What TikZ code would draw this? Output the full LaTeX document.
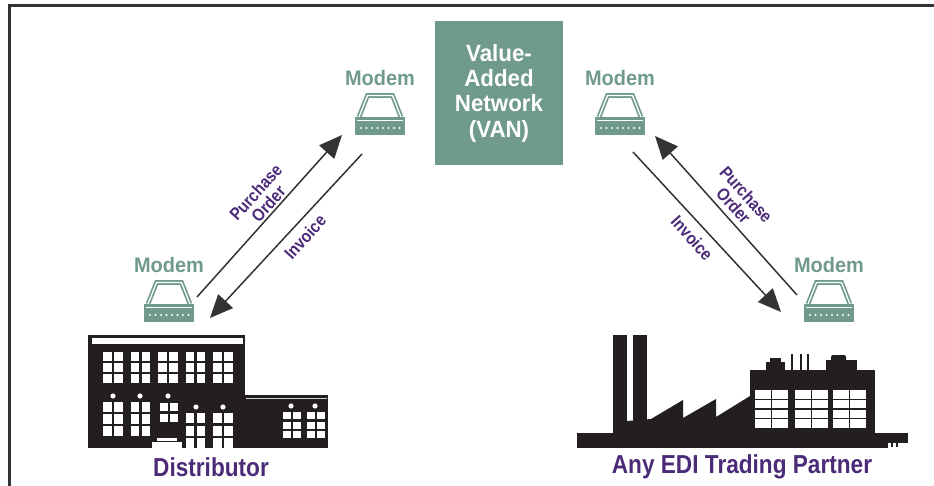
\documentclass[tikz,border=0pt]{standalone}
\usepackage{fontspec}
\setmainfont{Liberation Sans}
\newfontfamily\narrowsans[FakeStretch=0.87]{Liberation Sans}
\newfontfamily\vanfont[FakeStretch=0.95]{Liberation Sans}
\usetikzlibrary{arrows.meta}
\definecolor{vanteal}{HTML}{6F9A8C}
\definecolor{labelpurple}{HTML}{4B2A78}
\definecolor{inkblack}{HTML}{231F20}
\definecolor{wire}{HTML}{333333}

% white window panes: x, y, columns, rows, pane width, pane height, gap
\newcommand\panegrid[7]{%
  \foreach \pc in {1,...,#3}{%
    \foreach \pr in {1,...,#4}{%
      \fill[white] ({#1+(\pc-1)*(#5+#7)},{#2+(\pr-1)*(#6+#7)}) rectangle ++(#5,#6);}}}

\begin{document}
\begin{tikzpicture}[x=1pt,y=-1pt,
  modemlabel/.style={text=vanteal, font=\vanfont\bfseries\fontsize{21}{21}\selectfont, inner sep=0pt},
  flowlabel/.style={text=labelpurple, font=\narrowsans\bfseries\fontsize{17.5}{17}\selectfont, align=center, inner sep=0pt},
  sitelabel/.style={text=labelpurple, font=\narrowsans\bfseries\fontsize{26}{26}\selectfont, inner sep=0pt},
  vanbox/.style={fill=vanteal, text=white, font=\vanfont\bfseries\fontsize{23.5}{25.3}\selectfont,
    align=center, minimum width=128pt, minimum height=144pt, inner sep=0pt},
  flow/.style={draw=wire, line width=1.5pt, -{Triangle[length=23pt,width=20pt]}},
  pics/modem/.style={code={
    \node[modemlabel] (-label) at (0,0) {Modem};
    \fill[vanteal] (-25,39) rectangle (25,57);
    \draw[white, line width=1.3pt] (-23,42.5) -- (23,42.5);
    \foreach \dx in {-19,-13.5,...,19.5} \fill[white] (\dx,50) circle (1.2pt);
    \draw[vanteal, double=white, double distance=1.3pt, line width=1.7pt, line join=miter]
      (-21,39) -- (-12.5,17.5) -- (12.5,17.5) -- (21,39);
  }}
]
\useasboundingbox (0,0) rectangle (934,486);

% frame
\draw[wire, line width=3pt] (9,486) -- (9,5.5) -- (934,5.5);

% network in the middle
\node[vanbox] (van) at (499,93) {Value-\\Added\\Network\\(VAN)};

% modems
\pic (mTL) at (380,78) {modem};
\pic (mTR) at (620,78) {modem};
\pic (mBL) at (169,265) {modem};
\pic (mBR) at (829,265) {modem};

% message flows
\coordinate (poL-start) at (197,297);
\coordinate (poL-end) at (342,135);
\coordinate (invL-start) at (362,154);
\coordinate (invL-end) at (210,318);
\coordinate (poR-start) at (797,295);
\coordinate (poR-end) at (655,136);
\coordinate (invR-start) at (633,152);
\coordinate (invR-end) at (781,312);
\draw[flow] (poL-start) -- (poL-end);
\draw[flow] (invL-start) -- (invL-end);
\draw[flow] (poR-start) -- (poR-end);
\draw[flow] (invR-start) -- (invR-end);

\node[flowlabel, rotate=48] (poL-text) at (262,198) {Purchase\\Order};
\node[flowlabel, rotate=48] (invL-text) at (305,237) {Invoice};
\node[flowlabel, rotate=-48] (poR-text) at (740,200) {Purchase\\Order};
\node[flowlabel, rotate=-48] (invR-text) at (692,238) {Invoice};

% distributor building
\fill[inkblack] (88,335) rectangle (245,448);
\fill[inkblack] (245,395) rectangle (328,448);
\fill[white] (92,338) rectangle (243,344);
\draw[white!65!gray, line width=1pt] (246,398) -- (327,398);
\foreach \wx in {103,130.5,158,185.5,213} \panegrid{\wx}{352}{2}{3}{8.5}{8.7}{2.5};
\panegrid{103}{402}{2}{3}{8.5}{9.5}{2.5}
\panegrid{130.5}{402}{2}{3}{8.5}{9.5}{2.5}
\panegrid{160}{403}{2}{2}{7.5}{8}{2.5}
\panegrid{185.5}{413}{2}{3}{8.5}{10}{2.5}
\panegrid{213}{413}{2}{3}{8.5}{10}{2.5}
\panegrid{283}{412}{2}{3}{7.5}{7}{2.5}
\panegrid{307}{412}{2}{3}{7.5}{7}{2.5}
\foreach \p in {(113,396),(140,396),(168,396),(196,407),(223,407),(291,406),(315,406)}
  \fill[white] \p circle (2.6pt);
\fill[white] (152,442) rectangle (182,447.5);
\fill[white] (157,438) rectangle (177,441.2);

% trading partner factory
\fill[inkblack] (577,433) rectangle (908,442.5);
\fill[inkblack] (577,442) rectangle (888,448);
\fill[inkblack] (891,442) rectangle (893,447);
\fill[inkblack] (896,442) rectangle (898,447);
\fill[inkblack] (613,335) rectangle (627,433);
\fill[inkblack] (633,335) rectangle (647,433);
\fill[inkblack] (627,433) -- (627,421) -- (651,419) -- (683,400) -- (683,418)
  -- (716,399) -- (716,417) -- (750,396) -- (750,433) -- cycle;
\fill[inkblack] (750,370) rectangle (875,433);
\fill[inkblack] (766,362) rectangle (785,371);
\fill[inkblack] (770,358) rectangle (781,363);
\foreach \vx in {792,800.5,808} \fill[inkblack] (\vx-1,354) rectangle (\vx+1,371);
\fill[inkblack] (826,360) rectangle (857,371);
\fill[inkblack, rounded corners=2pt] (831,355) rectangle (846,362);
\foreach \gx in {755,795,833}{
  \fill[white] (\gx,390) rectangle (\gx+33,428);
  \draw[inkblack, line width=1.5pt] (\gx+16.5,390) -- (\gx+16.5,428)
    (\gx,399.5) -- (\gx+33,399.5) (\gx,409) -- (\gx+33,409) (\gx,418.5) -- (\gx+33,418.5);
}

% site names
\node[sitelabel] (distributor) at (211,467) {Distributor};
\node[sitelabel] (partner) at (742,467) {Any EDI Trading Partner};
\end{tikzpicture}
\end{document}
